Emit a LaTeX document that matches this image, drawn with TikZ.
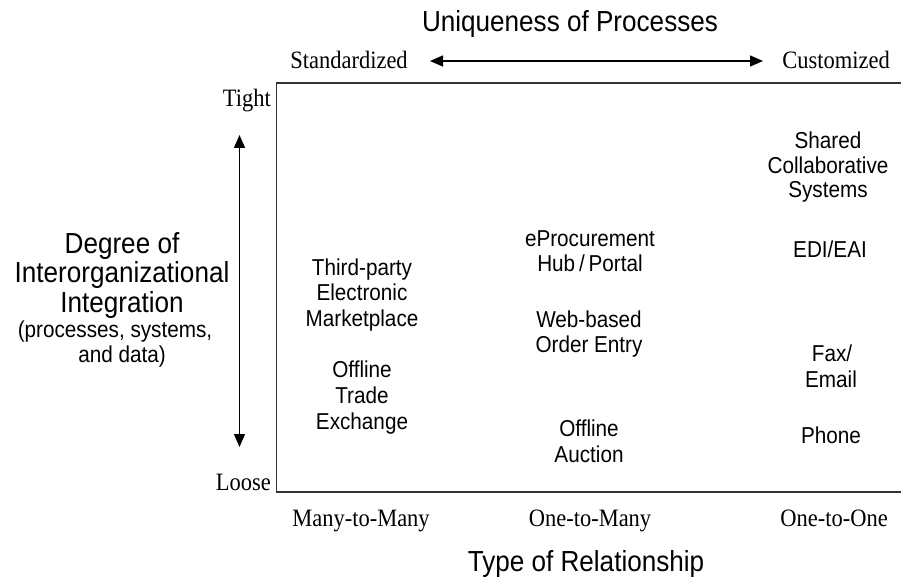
\documentclass[tikz,border=0pt]{standalone}
\usepackage{fontspec}
\setmainfont{Liberation Serif}[FakeStretch=0.9]
\newfontfamily\arialx{Liberation Sans}[FakeStretch=0.9]
\usetikzlibrary{arrows.meta}
\begin{document}
\begin{tikzpicture}[x=1pt,y=-1pt,
  ser/.style={anchor=base, inner sep=0pt, font=\fontsize{25}{30}\selectfont},
  big/.style={anchor=base, inner sep=0pt, font=\arialx\fontsize{29}{34}\selectfont},
  item/.style={anchor=base, inner sep=0pt, font=\arialx\fontsize{23}{27}\selectfont},
  dblarrow/.style={line width=1.4pt, {Triangle[length=13pt,width=11pt]}-{Triangle[length=13pt,width=11pt]}},
  frame/.style={line width=1.8pt, draw=black!80}]
\useasboundingbox (0,0) rectangle (901,577);
% frame
\coordinate (ftr) at (905,83);
\coordinate (ftl) at (276.5,83);
\coordinate (fbl) at (276.5,492);
\coordinate (fbr) at (905,492);
\draw[frame] (ftr) -- (ftl) -- (fbl) -- (fbr);
% top axis
\node[big] (uniq) at (570,32) {Uniqueness of Processes};
\node[ser] (std) at (349,69) {Standardized};
\node[ser] (cust) at (836,69) {Customized};
\coordinate (hl) at (430,61);
\coordinate (hr) at (763,61);
\draw[dblarrow] (hl) -- (hr);
% left axis
\node[ser, anchor=base east] (tight) at (271,107) {Tight};
\node[ser, anchor=base east] (loose) at (271,490) {Loose};
\coordinate (vt) at (239.5,135);
\coordinate (vb) at (239.5,447);
\draw[dblarrow] (vt) -- (vb);
\node[big] (deg1) at (122,253) {Degree of};
\node[big] (deg2) at (122,282) {Interorganizational};
\node[big] (deg3) at (122,312) {Integration};
\node[item] (deg4) at (115,337) {(processes, systems,};
\node[item] (deg5) at (122,362) {and data)};
% bottom axis
\node[ser] (m2m) at (361,526) {Many-to-Many};
\node[ser] (o2m) at (590,526) {One-to-Many};
\node[ser] (o2o) at (834,526) {One-to-One};
\node[big] (type) at (586,571) {Type of Relationship};
% left column
\node[item] (a1) at (362,275) {Third-party};
\node[item] (a2) at (362,300) {Electronic};
\node[item] (a3) at (362,326) {Marketplace};
\node[item] (a4) at (362,377) {Offline};
\node[item] (a5) at (362,403) {Trade};
\node[item] (a6) at (362,429) {Exchange};
% middle column
\node[item] (b1) at (590,246) {eProcurement};
\node[item] (b2) at (590,271) {Hub\,/\,Portal};
\node[item] (b3) at (589,327) {Web-based};
\node[item] (b4) at (589,352) {Order Entry};
\node[item] (b5) at (589,436) {Offline};
\node[item] (b6) at (589,462) {Auction};
% right column
\node[item] (c1) at (828,149) {Shared};
\node[item] (c2) at (828,174) {Collaborative};
\node[item] (c3) at (828,198) {Systems};
\node[item] (c4) at (830,258) {EDI/EAI};
\node[item] (c5) at (832,361) {Fax/};
\node[item] (c6) at (831,387) {Email};
\node[item] (c7) at (831,443) {Phone};
\end{tikzpicture}
\end{document}
